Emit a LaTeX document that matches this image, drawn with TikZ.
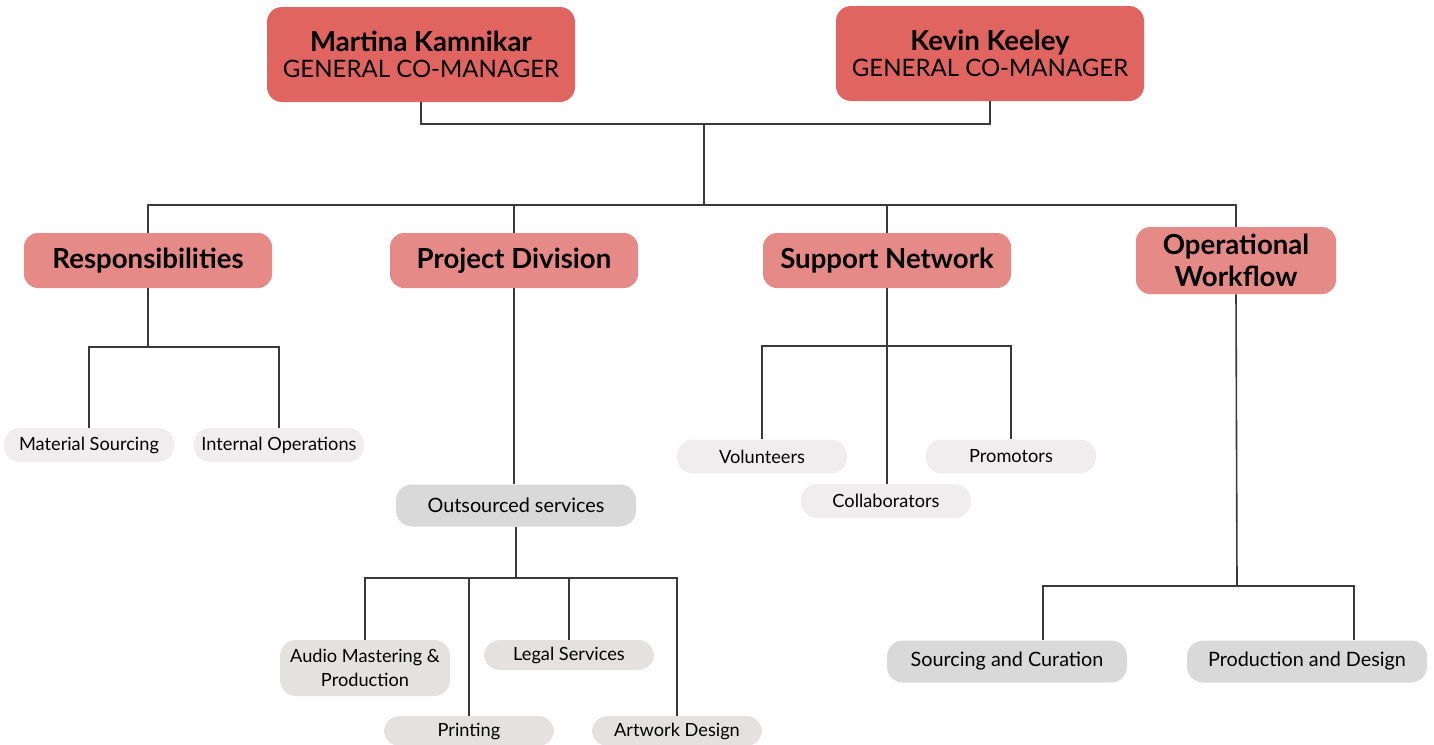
\documentclass[tikz,border=0pt]{standalone}
\usepackage{fontspec}
\setmainfont{Lato}
\definecolor{topred}{HTML}{E0645F}
\definecolor{midred}{HTML}{E68A87}
\definecolor{gray1}{HTML}{D9D9D9}
\definecolor{gray2}{HTML}{EFEDED}
\definecolor{gray3}{HTML}{E4E1E0}
\definecolor{linec}{HTML}{3A3A3A}
\begin{document}
\begin{tikzpicture}[x=0.5pt,y=-0.5pt,
  topbox/.style={fill=topred, rounded corners=7.5pt, inner sep=0pt, align=center, minimum width=154pt, minimum height=47.5pt},
  midbox/.style={fill=midred, rounded corners=7pt, inner sep=0pt, align=center, minimum width=124pt, minimum height=27.5pt, font=\fontsize{13.8}{15}\selectfont\bfseries},
  leafA/.style={fill=gray2, rounded corners=8pt, inner sep=0pt, align=center, minimum width=85pt, minimum height=17pt, font=\fontsize{9.1}{10.5}\selectfont},
  leafB/.style={fill=gray3, rounded corners=8pt, inner sep=0pt, align=center, minimum width=85pt, font=\fontsize{9.1}{12}\selectfont},
  leafC/.style={fill=gray1, rounded corners=8pt, inner sep=0pt, align=center, minimum width=120pt, minimum height=21pt, font=\fontsize{9.9}{11}\selectfont},
  conn/.style={draw=linec, line width=0.8pt}]
\useasboundingbox (0,0) rectangle (1434,744);
% top
\node[topbox] (mk) at (421,54.5) {{\fontsize{13.8}{16}\selectfont\bfseries Martina Kamnikar}\\[1pt]{\fontsize{12}{14}\selectfont GENERAL CO-MANAGER}};
\node[topbox] (kk) at (990,53.5) {{\fontsize{13.8}{16}\selectfont\bfseries Kevin Keeley}\\[1pt]{\fontsize{12}{14}\selectfont GENERAL CO-MANAGER}};
% level 2
\node[midbox] (rs) at (148,260.5) {Responsibilities};
\node[midbox] (pd) at (514,260.5) {Project Division};
\node[midbox] (sn) at (887,260.5) {Support Network};
\node[midbox, minimum width=100pt, minimum height=33.5pt, font=\fontsize{13.8}{16}\selectfont\bfseries] (ow) at (1236,260.5) {Operational\\Workflow};
% responsibilities children
\node[leafA] (ms) at (89,445) {Material Sourcing};
\node[leafA] (io) at (279,445) {Internal Operations};
% project division children
\node[leafC] (os) at (516,505.5) {Outsourced services};
\node[leafB, minimum height=28pt] (am) at (365,668) {Audio Mastering \&\\Production};
\node[leafB, minimum height=15pt] (ls) at (569,655) {Legal Services};
\node[leafB, minimum height=15pt] (pr) at (469,731) {Printing};
\node[leafB, minimum height=15pt] (ad) at (677,731) {Artwork Design};
% support children
\node[leafA] (vo) at (762,456.5) {Volunteers};
\node[leafA] (pm) at (1011,456.5) {Promotors};
\node[leafA] (co) at (886,501) {Collaborators};
% workflow children
\node[leafC] (sc) at (1007,661.5) {Sourcing and Curation};
\node[leafC] (pdz) at (1307,661.5) {Production and Design};
% junctions
\coordinate (j0) at (704,124);
\coordinate (bus) at (704,205);
\coordinate (rb) at (148,347);
\coordinate (ob) at (516,578);
\coordinate (sb) at (886,346);
\coordinate (wb) at (1237,586);
\coordinate (wl) at (1043,586);
\coordinate (wr) at (1354,586);
% connectors
\draw[conn] (mk.south) |- (j0) -| (kk.south);
\draw[conn] (j0) -- (bus);
\draw[conn] (rs.north) -- (rs.north |- bus) -- (ow.north |- bus) -- (ow.north);
\draw[conn] (pd.north) -- (pd.north |- bus);
\draw[conn] (sn.north) -- (sn.north |- bus);
\draw[conn] (rs.south) -- (rb);
\draw[conn] (ms.north) |- (rb) -| (io.north);
\draw[conn] (pd.south) -- (pd.south |- os.north);
\draw[conn] (os.south) -- (ob);
\draw[conn] (am.north) |- (ob) -| (ad.north);
\draw[conn] (pr.north) -- (pr.north |- ob);
\draw[conn] (ls.north) -- (ls.north |- ob);
\draw[conn] (sn.south) -- (sn.south |- co.north);
\draw[conn] (vo.north) |- (sb) -| (pm.north);
\draw[conn] (ow.south) -- (wb);
\draw[conn] (wl |- sc.north) -- (wl) -- (wr) -- (wr |- pdz.north);
\end{tikzpicture}
\end{document}
